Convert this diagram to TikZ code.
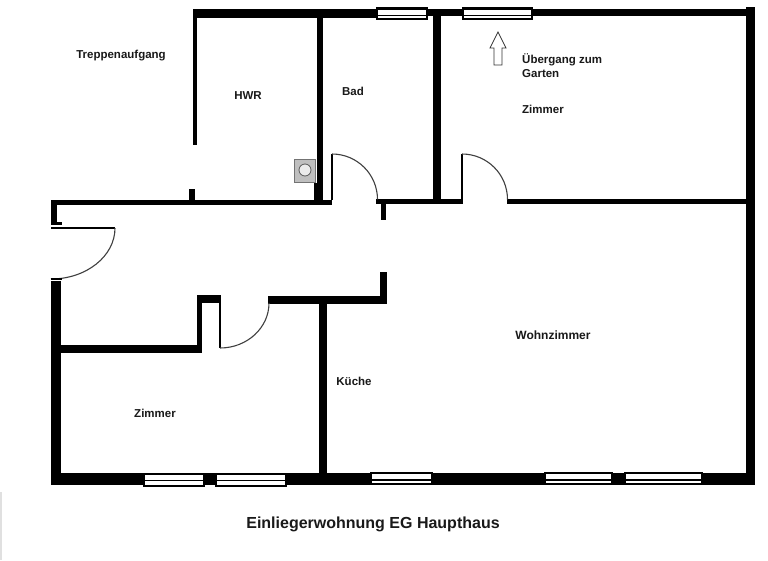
\documentclass[tikz,border=0pt]{standalone}
\usepackage{fontspec}
\setmainfont{Liberation Sans}
\tikzset{
  wall/.style={fill=black,draw=none},
  thin wall/.style={draw=black,line width=1.2pt},
  swing/.style={draw=black!75,line width=1.1pt},
  lbl/.style={font=\bfseries\fontsize{11.5}{13}\selectfont,text=black!90,inner sep=0pt},
  lblw/.style={lbl,anchor=west},
  titlelbl/.style={font=\bfseries\fontsize{16}{18}\selectfont,text=black!90,inner sep=0pt}
}
\newcommand{\wl}[4]{\fill[wall] (#1,#2) rectangle (#3,#4);}
\newcommand{\winT}[2]{\fill[black] (#1,7) rectangle (#2,20);
  \fill[white] (#1+2,9.5) rectangle (#2-2,14.5);
  \fill[white] (#1+2,16) rectangle (#2-2,18);}
\newcommand{\winB}[6]{\fill[black] (#1,#3) rectangle (#2,#4);
  \fill[white] (#1+2,#3+2) rectangle (#2-2,#5);
  \fill[white] (#1+2,#5+1.5) rectangle (#2-2,#6);}
\begin{document}
\begin{tikzpicture}[x=1pt,y=-1pt]
\useasboundingbox (0,0) rectangle (768,560);
\fill[white] (0,0) rectangle (768,560);
\fill[black!12] (0,492) rectangle (1.5,560);
% top
\wl{193}{9}{377}{18}
\wl{428}{9}{463}{16}
\wl{533}{9}{747}{16}
\winT{376}{428}
\winT{462}{533}
% right
\wl{746}{7}{755}{485}
% inner upper walls
\wl{193}{18}{197}{145}
\wl{317}{18}{323}{200}
\wl{314}{183}{323}{200}
\wl{189}{189}{195}{200}
\wl{432.5}{16}{440.5}{200}
\wl{51}{200}{332}{205}
\wl{376}{199}{463}{204}
\wl{381}{204}{386}{220}
\wl{507}{199}{747}{204}
% entrance
\wl{51}{200}{57}{223}
\wl{51}{222}{62}{224.5}
\wl{51}{281}{61}{485}
\draw[thin wall] (51,228) -- (115,228);
\draw[swing] (115,228) arc[start angle=0,end angle=90,x radius=64,y radius=51];
\draw[thin wall] (51,279) -- (62,279);
% lower inner walls
\wl{61}{345}{202}{353}
\wl{197}{295}{202}{350}
\wl{197}{295}{221}{303}
\wl{268}{296}{387}{304}
\wl{380}{272}{387}{304}
\wl{319}{304}{327}{474}
% doors
\draw[thin wall] (332,200) -- (332,154);
\draw[swing] (332,154) arc[start angle=-90,end angle=0,radius=45.5];
\draw[thin wall] (462,200) -- (462,154);
\draw[swing] (462,154) arc[start angle=-90,end angle=0,radius=45.5];
\draw[thin wall] (220,303) -- (220,348);
\draw[swing] (220,348) arc[start angle=90,end angle=0,x radius=49,y radius=45];
% bottom
\wl{51}{473}{143}{485}
\wl{204}{473}{215}{485}
\wl{287}{473}{371}{485}
\wl{433}{473}{544}{485}
\wl{613}{473}{624}{485}
\wl{703}{473}{755}{485}
\winB{143}{204.5}{473}{487}{479.5}{485}
\winB{215}{287}{473}{487}{479.5}{485}
\winB{370}{433}{472}{485}{479}{483}
\winB{544}{613}{472}{485}{479}{483}
\winB{624}{703}{472}{485}{479}{483}
% boiler
\fill[black!25,draw=black!55,line width=0.6pt] (294,159) rectangle (315,182);
\draw[black!65,line width=0.8pt,fill=black!8] (305,170) circle[radius=6];
% arrow
\draw[black!80,line width=0.8pt,line join=miter,fill=white] (498,32) -- (506,48) -- (502,48) -- (502,65) -- (494,65) -- (494,48) -- (490,48) -- cycle;
% labels
\node[lbl] (treppe) at (121,55.5) {Treppenaufgang};
\node[lbl] (hwr) at (248,95.5) {HWR};
\node[lbl] (bad) at (353,91.5) {Bad};
\node[lblw] (uebergang) at (522,60) {Übergang zum};
\node[lblw] (garten) at (522,73.5) {Garten};
\node[lblw] (zimmerA) at (522,109.5) {Zimmer};
\node[lbl,font=\bfseries\fontsize{12}{14}\selectfont] (wohn) at (553,335.5) {Wohnzimmer};
\node[lbl] (kueche) at (354,381.5) {Küche};
\node[lbl] (zimmerB) at (155,413.5) {Zimmer};
\node[titlelbl] (titel) at (373,524) {Einliegerwohnung EG Haupthaus};
\end{tikzpicture}
\end{document}
